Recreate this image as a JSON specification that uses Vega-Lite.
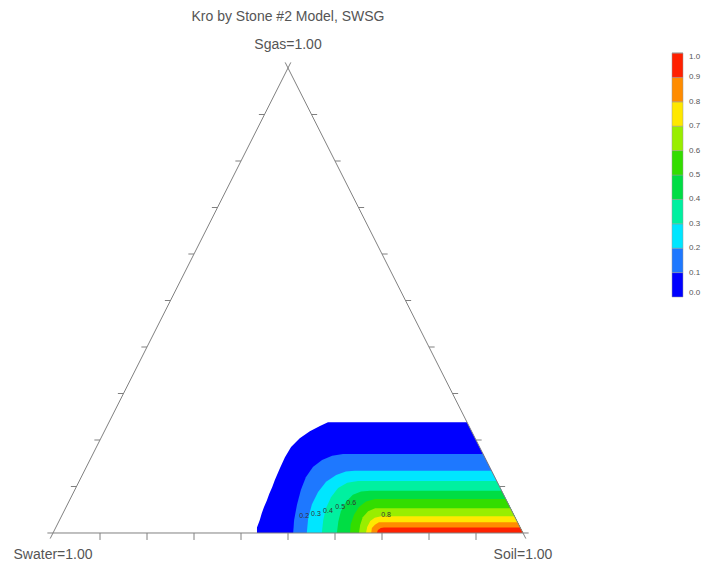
{
  "$schema": "https://vega.github.io/schema/vega-lite/v6.json",
  "width": 709,
  "height": 569,
  "autosize": {"type": "fit", "contains": "padding"},
  "padding": 0,
  "background": "white",
  "config": {"view": {"stroke": null}, "font": "Liberation Sans"},
  "datasets": {
    "bands": [
      {"lev": 0.05, "i": 0, "So": 0.434, "Sg": 0},
      {"lev": 0.05, "i": 1, "So": 0.428, "Sg": 0.012},
      {"lev": 0.05, "i": 2, "So": 0.426, "Sg": 0.028},
      {"lev": 0.05, "i": 3, "So": 0.423, "Sg": 0.042},
      {"lev": 0.05, "i": 4, "So": 0.421, "Sg": 0.056},
      {"lev": 0.05, "i": 5, "So": 0.42, "Sg": 0.07},
      {"lev": 0.05, "i": 6, "So": 0.418, "Sg": 0.084},
      {"lev": 0.05, "i": 7, "So": 0.417, "Sg": 0.099},
      {"lev": 0.05, "i": 8, "So": 0.415, "Sg": 0.114},
      {"lev": 0.05, "i": 9, "So": 0.413, "Sg": 0.14},
      {"lev": 0.05, "i": 10, "So": 0.412, "Sg": 0.163},
      {"lev": 0.05, "i": 11, "So": 0.414, "Sg": 0.185},
      {"lev": 0.05, "i": 12, "So": 0.423, "Sg": 0.204},
      {"lev": 0.05, "i": 13, "So": 0.437, "Sg": 0.219},
      {"lev": 0.05, "i": 14, "So": 0.453, "Sg": 0.23},
      {"lev": 0.05, "i": 15, "So": 0.466, "Sg": 0.238},
      {"lev": 0.05, "i": 16, "So": 0.762, "Sg": 0.238},
      {"lev": 0.05, "i": 17, "So": 1.0, "Sg": 0},
      {"lev": 0.15, "i": 0, "So": 0.511, "Sg": 0},
      {"lev": 0.15, "i": 1, "So": 0.499, "Sg": 0.028},
      {"lev": 0.15, "i": 2, "So": 0.489, "Sg": 0.06},
      {"lev": 0.15, "i": 3, "So": 0.481, "Sg": 0.093},
      {"lev": 0.15, "i": 4, "So": 0.478, "Sg": 0.12},
      {"lev": 0.15, "i": 5, "So": 0.482, "Sg": 0.142},
      {"lev": 0.15, "i": 6, "So": 0.494, "Sg": 0.157},
      {"lev": 0.15, "i": 7, "So": 0.511, "Sg": 0.166},
      {"lev": 0.15, "i": 8, "So": 0.532, "Sg": 0.17},
      {"lev": 0.15, "i": 9, "So": 0.83, "Sg": 0.17},
      {"lev": 0.15, "i": 10, "So": 1.0, "Sg": 0},
      {"lev": 0.25, "i": 0, "So": 0.54, "Sg": 0},
      {"lev": 0.25, "i": 1, "So": 0.527, "Sg": 0.032},
      {"lev": 0.25, "i": 2, "So": 0.52, "Sg": 0.062},
      {"lev": 0.25, "i": 3, "So": 0.52, "Sg": 0.088},
      {"lev": 0.25, "i": 4, "So": 0.526, "Sg": 0.11},
      {"lev": 0.25, "i": 5, "So": 0.54, "Sg": 0.125},
      {"lev": 0.25, "i": 6, "So": 0.557, "Sg": 0.132},
      {"lev": 0.25, "i": 7, "So": 0.575, "Sg": 0.134},
      {"lev": 0.25, "i": 8, "So": 0.866, "Sg": 0.134},
      {"lev": 0.25, "i": 9, "So": 1.0, "Sg": 0},
      {"lev": 0.35, "i": 0, "So": 0.572, "Sg": 0},
      {"lev": 0.35, "i": 1, "So": 0.561, "Sg": 0.028},
      {"lev": 0.35, "i": 2, "So": 0.554, "Sg": 0.054},
      {"lev": 0.35, "i": 3, "So": 0.553, "Sg": 0.077},
      {"lev": 0.35, "i": 4, "So": 0.558, "Sg": 0.097},
      {"lev": 0.35, "i": 5, "So": 0.572, "Sg": 0.108},
      {"lev": 0.35, "i": 6, "So": 0.593, "Sg": 0.112},
      {"lev": 0.35, "i": 7, "So": 0.888, "Sg": 0.112},
      {"lev": 0.35, "i": 8, "So": 1.0, "Sg": 0},
      {"lev": 0.45, "i": 0, "So": 0.604, "Sg": 0},
      {"lev": 0.45, "i": 1, "So": 0.595, "Sg": 0.024},
      {"lev": 0.45, "i": 2, "So": 0.589, "Sg": 0.047},
      {"lev": 0.45, "i": 3, "So": 0.59, "Sg": 0.067},
      {"lev": 0.45, "i": 4, "So": 0.597, "Sg": 0.082},
      {"lev": 0.45, "i": 5, "So": 0.611, "Sg": 0.089},
      {"lev": 0.45, "i": 6, "So": 0.629, "Sg": 0.091},
      {"lev": 0.45, "i": 7, "So": 0.909, "Sg": 0.091},
      {"lev": 0.45, "i": 8, "So": 1.0, "Sg": 0},
      {"lev": 0.55, "i": 0, "So": 0.632, "Sg": 0},
      {"lev": 0.55, "i": 1, "So": 0.624, "Sg": 0.019},
      {"lev": 0.55, "i": 2, "So": 0.621, "Sg": 0.039},
      {"lev": 0.55, "i": 3, "So": 0.623, "Sg": 0.056},
      {"lev": 0.55, "i": 4, "So": 0.632, "Sg": 0.068},
      {"lev": 0.55, "i": 5, "So": 0.649, "Sg": 0.073},
      {"lev": 0.55, "i": 6, "So": 0.927, "Sg": 0.073},
      {"lev": 0.55, "i": 7, "So": 1.0, "Sg": 0},
      {"lev": 0.65, "i": 0, "So": 0.651, "Sg": 0},
      {"lev": 0.65, "i": 1, "So": 0.645, "Sg": 0.017},
      {"lev": 0.65, "i": 2, "So": 0.642, "Sg": 0.034},
      {"lev": 0.65, "i": 3, "So": 0.647, "Sg": 0.047},
      {"lev": 0.65, "i": 4, "So": 0.659, "Sg": 0.053},
      {"lev": 0.65, "i": 5, "So": 0.673, "Sg": 0.053},
      {"lev": 0.65, "i": 6, "So": 0.947, "Sg": 0.053},
      {"lev": 0.65, "i": 7, "So": 1.0, "Sg": 0},
      {"lev": 0.75, "i": 0, "So": 0.666, "Sg": 0},
      {"lev": 0.75, "i": 1, "So": 0.662, "Sg": 0.013},
      {"lev": 0.75, "i": 2, "So": 0.662, "Sg": 0.026},
      {"lev": 0.75, "i": 3, "So": 0.668, "Sg": 0.033},
      {"lev": 0.75, "i": 4, "So": 0.68, "Sg": 0.036},
      {"lev": 0.75, "i": 5, "So": 0.964, "Sg": 0.036},
      {"lev": 0.75, "i": 6, "So": 1.0, "Sg": 0},
      {"lev": 0.85, "i": 0, "So": 0.677, "Sg": 0},
      {"lev": 0.85, "i": 1, "So": 0.673, "Sg": 0.011},
      {"lev": 0.85, "i": 2, "So": 0.676, "Sg": 0.018},
      {"lev": 0.85, "i": 3, "So": 0.682, "Sg": 0.023},
      {"lev": 0.85, "i": 4, "So": 0.691, "Sg": 0.023},
      {"lev": 0.85, "i": 5, "So": 0.977, "Sg": 0.023},
      {"lev": 0.85, "i": 6, "So": 1.0, "Sg": 0},
      {"lev": 0.95, "i": 0, "So": 0.689, "Sg": 0},
      {"lev": 0.95, "i": 1, "So": 0.688, "Sg": 0.0065},
      {"lev": 0.95, "i": 2, "So": 0.692, "Sg": 0.011},
      {"lev": 0.95, "i": 3, "So": 0.698, "Sg": 0.012},
      {"lev": 0.95, "i": 4, "So": 0.988, "Sg": 0.012},
      {"lev": 0.95, "i": 5, "So": 1.0, "Sg": 0}
    ],
    "edges": [
      {"So1": -0.012, "Sg1": 0, "So2": 1.012, "Sg2": 0},
      {"So1": 0, "Sg1": -0.012, "So2": 0, "Sg2": 1.012},
      {"So1": 1.012, "Sg1": -0.012, "So2": -0.012, "Sg2": 1.012}
    ],
    "ticks": [
      {"e": "b", "So": 0.1, "Sg": 0}, {"e": "b", "So": 0.2, "Sg": 0}, {"e": "b", "So": 0.3, "Sg": 0},
      {"e": "b", "So": 0.4, "Sg": 0}, {"e": "b", "So": 0.5, "Sg": 0}, {"e": "b", "So": 0.6, "Sg": 0},
      {"e": "b", "So": 0.7, "Sg": 0}, {"e": "b", "So": 0.8, "Sg": 0}, {"e": "b", "So": 0.9, "Sg": 0},
      {"e": "l", "So": 0, "Sg": 0.1}, {"e": "l", "So": 0, "Sg": 0.2}, {"e": "l", "So": 0, "Sg": 0.3},
      {"e": "l", "So": 0, "Sg": 0.4}, {"e": "l", "So": 0, "Sg": 0.5}, {"e": "l", "So": 0, "Sg": 0.6},
      {"e": "l", "So": 0, "Sg": 0.7}, {"e": "l", "So": 0, "Sg": 0.8}, {"e": "l", "So": 0, "Sg": 0.9},
      {"e": "r", "So": 0.9, "Sg": 0.1}, {"e": "r", "So": 0.8, "Sg": 0.2}, {"e": "r", "So": 0.7, "Sg": 0.3},
      {"e": "r", "So": 0.6, "Sg": 0.4}, {"e": "r", "So": 0.5, "Sg": 0.5}, {"e": "r", "So": 0.4, "Sg": 0.6},
      {"e": "r", "So": 0.3, "Sg": 0.7}, {"e": "r", "So": 0.2, "Sg": 0.8}, {"e": "r", "So": 0.1, "Sg": 0.9}
    ],
    "vertices": [
      {"t": "Swater=1.00", "So": 0, "Sg": 0},
      {"t": "Soil=1.00", "So": 1, "Sg": 0},
      {"t": "Sgas=1.00", "So": 0, "Sg": 1}
    ],
    "clabels": [
      {"t": "0.2", "So": 0.516, "Sg": 0.037},
      {"t": "0.3", "So": 0.539, "Sg": 0.041},
      {"t": "0.4", "So": 0.5615, "Sg": 0.047},
      {"t": "0.5", "So": 0.583, "Sg": 0.056},
      {"t": "0.6", "So": 0.602, "Sg": 0.065},
      {"t": "0.8", "So": 0.689, "Sg": 0.039}
    ]
  },
  "layer": [
    {
      "data": {"name": "bands"},
      "transform": [
        {"calculate": "datum.So + datum.Sg / 2", "as": "x"},
        {"calculate": "datum.Sg", "as": "y"}
      ],
      "mark": {"type": "line", "interpolate": "linear-closed", "strokeOpacity": 0, "fillOpacity": 1},
      "encoding": {
        "x": {"field": "x", "type": "quantitative", "scale": {"domain": [-0.11277, 1.39574], "nice": false, "zero": false}, "axis": null},
        "y": {"field": "y", "type": "quantitative", "scale": {"domain": [-0.07742, 1.14624], "nice": false, "zero": false}, "axis": null},
        "order": {"field": "i", "type": "quantitative"},
        "detail": {"field": "lev", "type": "quantitative"},
        "fill": {
          "field": "lev", "type": "quantitative",
          "scale": {"type": "quantize", "domain": [0, 1], "nice": false, "zero": false,
            "range": ["#0000ff", "#1e78ff", "#00e6ff", "#00f0a0", "#00dd44", "#33dd00", "#99ee00", "#ffe800", "#ff8c00", "#ff2000"]},
          "legend": {"type": "gradient", "orient": "none", "legendX": 672, "legendY": 53, "direction": "vertical",
            "gradientLength": 244, "gradientThickness": 11, "title": null, "labelFontSize": 8, "labelColor": "#555",
            "values": [0, 0, 0.1, 0.2, 0.3, 0.4, 0.5, 0.6, 0.7, 0.8, 0.9, 1.0], "labelOverlap": false,
            "format": ".1f", "labelOffset": 6, "gradientStrokeColor": "#999", "gradientStrokeWidth": 0.5}
        }
      }
    },
    {
      "data": {"name": "edges"},
      "transform": [
        {"calculate": "datum.So1 + datum.Sg1 / 2", "as": "x"},
        {"calculate": "datum.Sg1", "as": "y"},
        {"calculate": "datum.So2 + datum.Sg2 / 2", "as": "x2"},
        {"calculate": "datum.Sg2", "as": "y2"}
      ],
      "mark": {"type": "rule", "color": "#808080", "strokeWidth": 1},
      "encoding": {
        "x": {"field": "x", "type": "quantitative", "scale": {"domain": [-0.11277, 1.39574], "nice": false, "zero": false}, "axis": null},
        "y": {"field": "y", "type": "quantitative", "scale": {"domain": [-0.07742, 1.14624], "nice": false, "zero": false}, "axis": null},
        "x2": {"field": "x2"},
        "y2": {"field": "y2"}
      }
    },
    {
      "data": {"name": "ticks"},
      "transform": [
        {"calculate": "datum.So + datum.Sg / 2", "as": "x"},
        {"calculate": "datum.Sg", "as": "y"},
        {"calculate": "datum.x + (datum.e == 'l' ? -0.012 : datum.e == 'r' ? 0.012 : 0)", "as": "x2"},
        {"calculate": "datum.y + (datum.e == 'b' ? -0.015 : 0)", "as": "y2"}
      ],
      "mark": {"type": "rule", "color": "#808080", "strokeWidth": 1},
      "encoding": {
        "x": {"field": "x", "type": "quantitative", "scale": {"domain": [-0.11277, 1.39574], "nice": false, "zero": false}, "axis": null},
        "y": {"field": "y", "type": "quantitative", "scale": {"domain": [-0.07742, 1.14624], "nice": false, "zero": false}, "axis": null},
        "x2": {"field": "x2"},
        "y2": {"field": "y2"}
      }
    },
    {
      "data": {"name": "vertices"},
      "transform": [
        {"filter": "datum.Sg == 0"},
        {"calculate": "datum.So + datum.Sg / 2", "as": "x"},
        {"calculate": "datum.Sg", "as": "y"}
      ],
      "mark": {"type": "text", "fontSize": 14, "color": "#555", "dy": 22, "align": "center", "baseline": "middle"},
      "encoding": {
        "x": {"field": "x", "type": "quantitative", "scale": {"domain": [-0.11277, 1.39574], "nice": false, "zero": false}, "axis": null},
        "y": {"field": "y", "type": "quantitative", "scale": {"domain": [-0.07742, 1.14624], "nice": false, "zero": false}, "axis": null},
        "text": {"field": "t"}
      }
    },
    {
      "data": {"name": "vertices"},
      "transform": [
        {"filter": "datum.Sg == 1"},
        {"calculate": "datum.So + datum.Sg / 2", "as": "x"},
        {"calculate": "datum.Sg", "as": "y"}
      ],
      "mark": {"type": "text", "fontSize": 14, "color": "#555", "dy": -23, "align": "center", "baseline": "middle"},
      "encoding": {
        "x": {"field": "x", "type": "quantitative", "scale": {"domain": [-0.11277, 1.39574], "nice": false, "zero": false}, "axis": null},
        "y": {"field": "y", "type": "quantitative", "scale": {"domain": [-0.07742, 1.14624], "nice": false, "zero": false}, "axis": null},
        "text": {"field": "t"}
      }
    },
    {
      "data": {"name": "vertices"},
      "transform": [
        {"filter": "datum.Sg == 1"},
        {"calculate": "datum.So + datum.Sg / 2", "as": "x"},
        {"calculate": "datum.Sg", "as": "y"}
      ],
      "mark": {"type": "text", "fontSize": 14, "color": "#555", "dy": -51, "align": "center", "baseline": "middle"},
      "encoding": {
        "x": {"field": "x", "type": "quantitative", "scale": {"domain": [-0.11277, 1.39574], "nice": false, "zero": false}, "axis": null},
        "y": {"field": "y", "type": "quantitative", "scale": {"domain": [-0.07742, 1.14624], "nice": false, "zero": false}, "axis": null},
        "text": {"value": "Kro by Stone #2 Model, SWSG"}
      }
    },
    {
      "data": {"name": "clabels"},
      "transform": [
        {"calculate": "datum.So + datum.Sg / 2", "as": "x"},
        {"calculate": "datum.Sg", "as": "y"}
      ],
      "mark": {"type": "text", "fontSize": 7, "color": "#333", "align": "center", "baseline": "middle"},
      "encoding": {
        "x": {"field": "x", "type": "quantitative", "scale": {"domain": [-0.11277, 1.39574], "nice": false, "zero": false}, "axis": null},
        "y": {"field": "y", "type": "quantitative", "scale": {"domain": [-0.07742, 1.14624], "nice": false, "zero": false}, "axis": null},
        "text": {"field": "t"}
      }
    }
  ]
}
